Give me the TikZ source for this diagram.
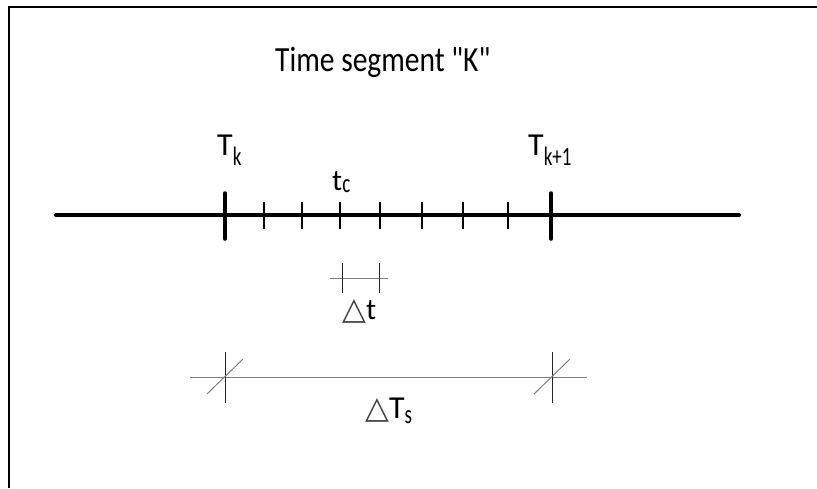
\documentclass[tikz,border=0pt]{standalone}
\usepackage{fontspec}
\usepackage{graphicx}
\setmainfont{Carlito}
\newfontfamily\titlefont{Carlito}
\newfontfamily\symfont{DejaVu Sans}
\usetikzlibrary{positioning}

% lowered, tall subscript as in the hand sketch
\newcommand{\subtxt}[2][10pt]{\raisebox{-#1}{\scalebox{1}[1.4]{\fontsize{19}{20}\selectfont #2}}}
\newcommand{\tri}{{\symfont\fontsize{31}{31}\selectfont\color{black!75}△}}

\tikzset{
  axis/.style={line width=4pt, line cap=round},
  bigtick/.style={line width=3.5pt, line cap=round},
  smalltick/.style={line width=2pt},
  dimline/.style={black!50, line width=1pt},
  dimtick/.style={black!85, line width=1pt},
  lbl/.style={inner sep=0pt, anchor=base west, font=\fontsize{32}{34}\selectfont},
}

\begin{document}
\begin{tikzpicture}[x=1pt, y=-1pt]
  \useasboundingbox (0,0) rectangle (817,488);
  % frame, cut off at right and bottom
  \draw[line width=2pt] (9,488) -- (9,7) -- (817,7);
  \node[lbl, font=\titlefont\fontsize{29.5}{32}\selectfont, yscale=1.2] (title) at (275,71) {Time segment "K"};

  % time axis
  \coordinate (axL) at (56,215);
  \coordinate (axR) at (739,215);
  \coordinate (Tk0) at (225,215);
  \coordinate (Tk1) at (551,215);
  \draw[axis] (axL) -- (axR);
  \draw[bigtick] (Tk0) ++(0,-22) -- ++(0,46);
  \draw[bigtick] (Tk1) ++(0,-22) -- ++(0,46);
  \foreach \x in {264,302,340,380,422,463,508}
    \draw[smalltick] (\x,202) -- (\x,229);

  \node[lbl] (lTk) at (217,155) {T\subtxt{k}};
  \node[lbl] (lTk1) at (528,155) {T\subtxt{k+1}};
  \node[lbl, font=\fontsize{30}{32}\selectfont] (ltc) at (332,190) {t\subtxt[2pt]{c}};

  % step width
  \coordinate (dt0) at (342,278);
  \coordinate (dt1) at (379,278);
  \draw[dimline] ([xshift=-12pt]dt0) -- ([xshift=9pt]dt1);
  \draw[dimtick] (dt0) ++(0,-15) -- ++(0,30);
  \draw[dimtick] (dt1) ++(0,-15) -- ++(0,30);
  \node[lbl, font=\fontsize{30}{32}\selectfont] (ldt) at (342,319) {\tri t};

  % segment length
  \coordinate (Ts0) at (225,377);
  \coordinate (Ts1) at (552,377);
  \draw[dimline] ([xshift=-35pt]Ts0) -- ([xshift=35pt]Ts1);
  \draw[dimtick] (Ts0) ++(0,-25) -- ++(0,51);
  \draw[dimtick] (Ts1) ++(0,-25) -- ++(0,51);
  \draw[dimline] (Ts0) ++(-18,17) -- ++(36,-35);
  \draw[dimline] (Ts1) ++(-18,17) -- ++(36,-35);
  \node[lbl] (ldTs) at (365,418) {\tri T\subtxt[5pt]{s}};
\end{tikzpicture}
\end{document}
